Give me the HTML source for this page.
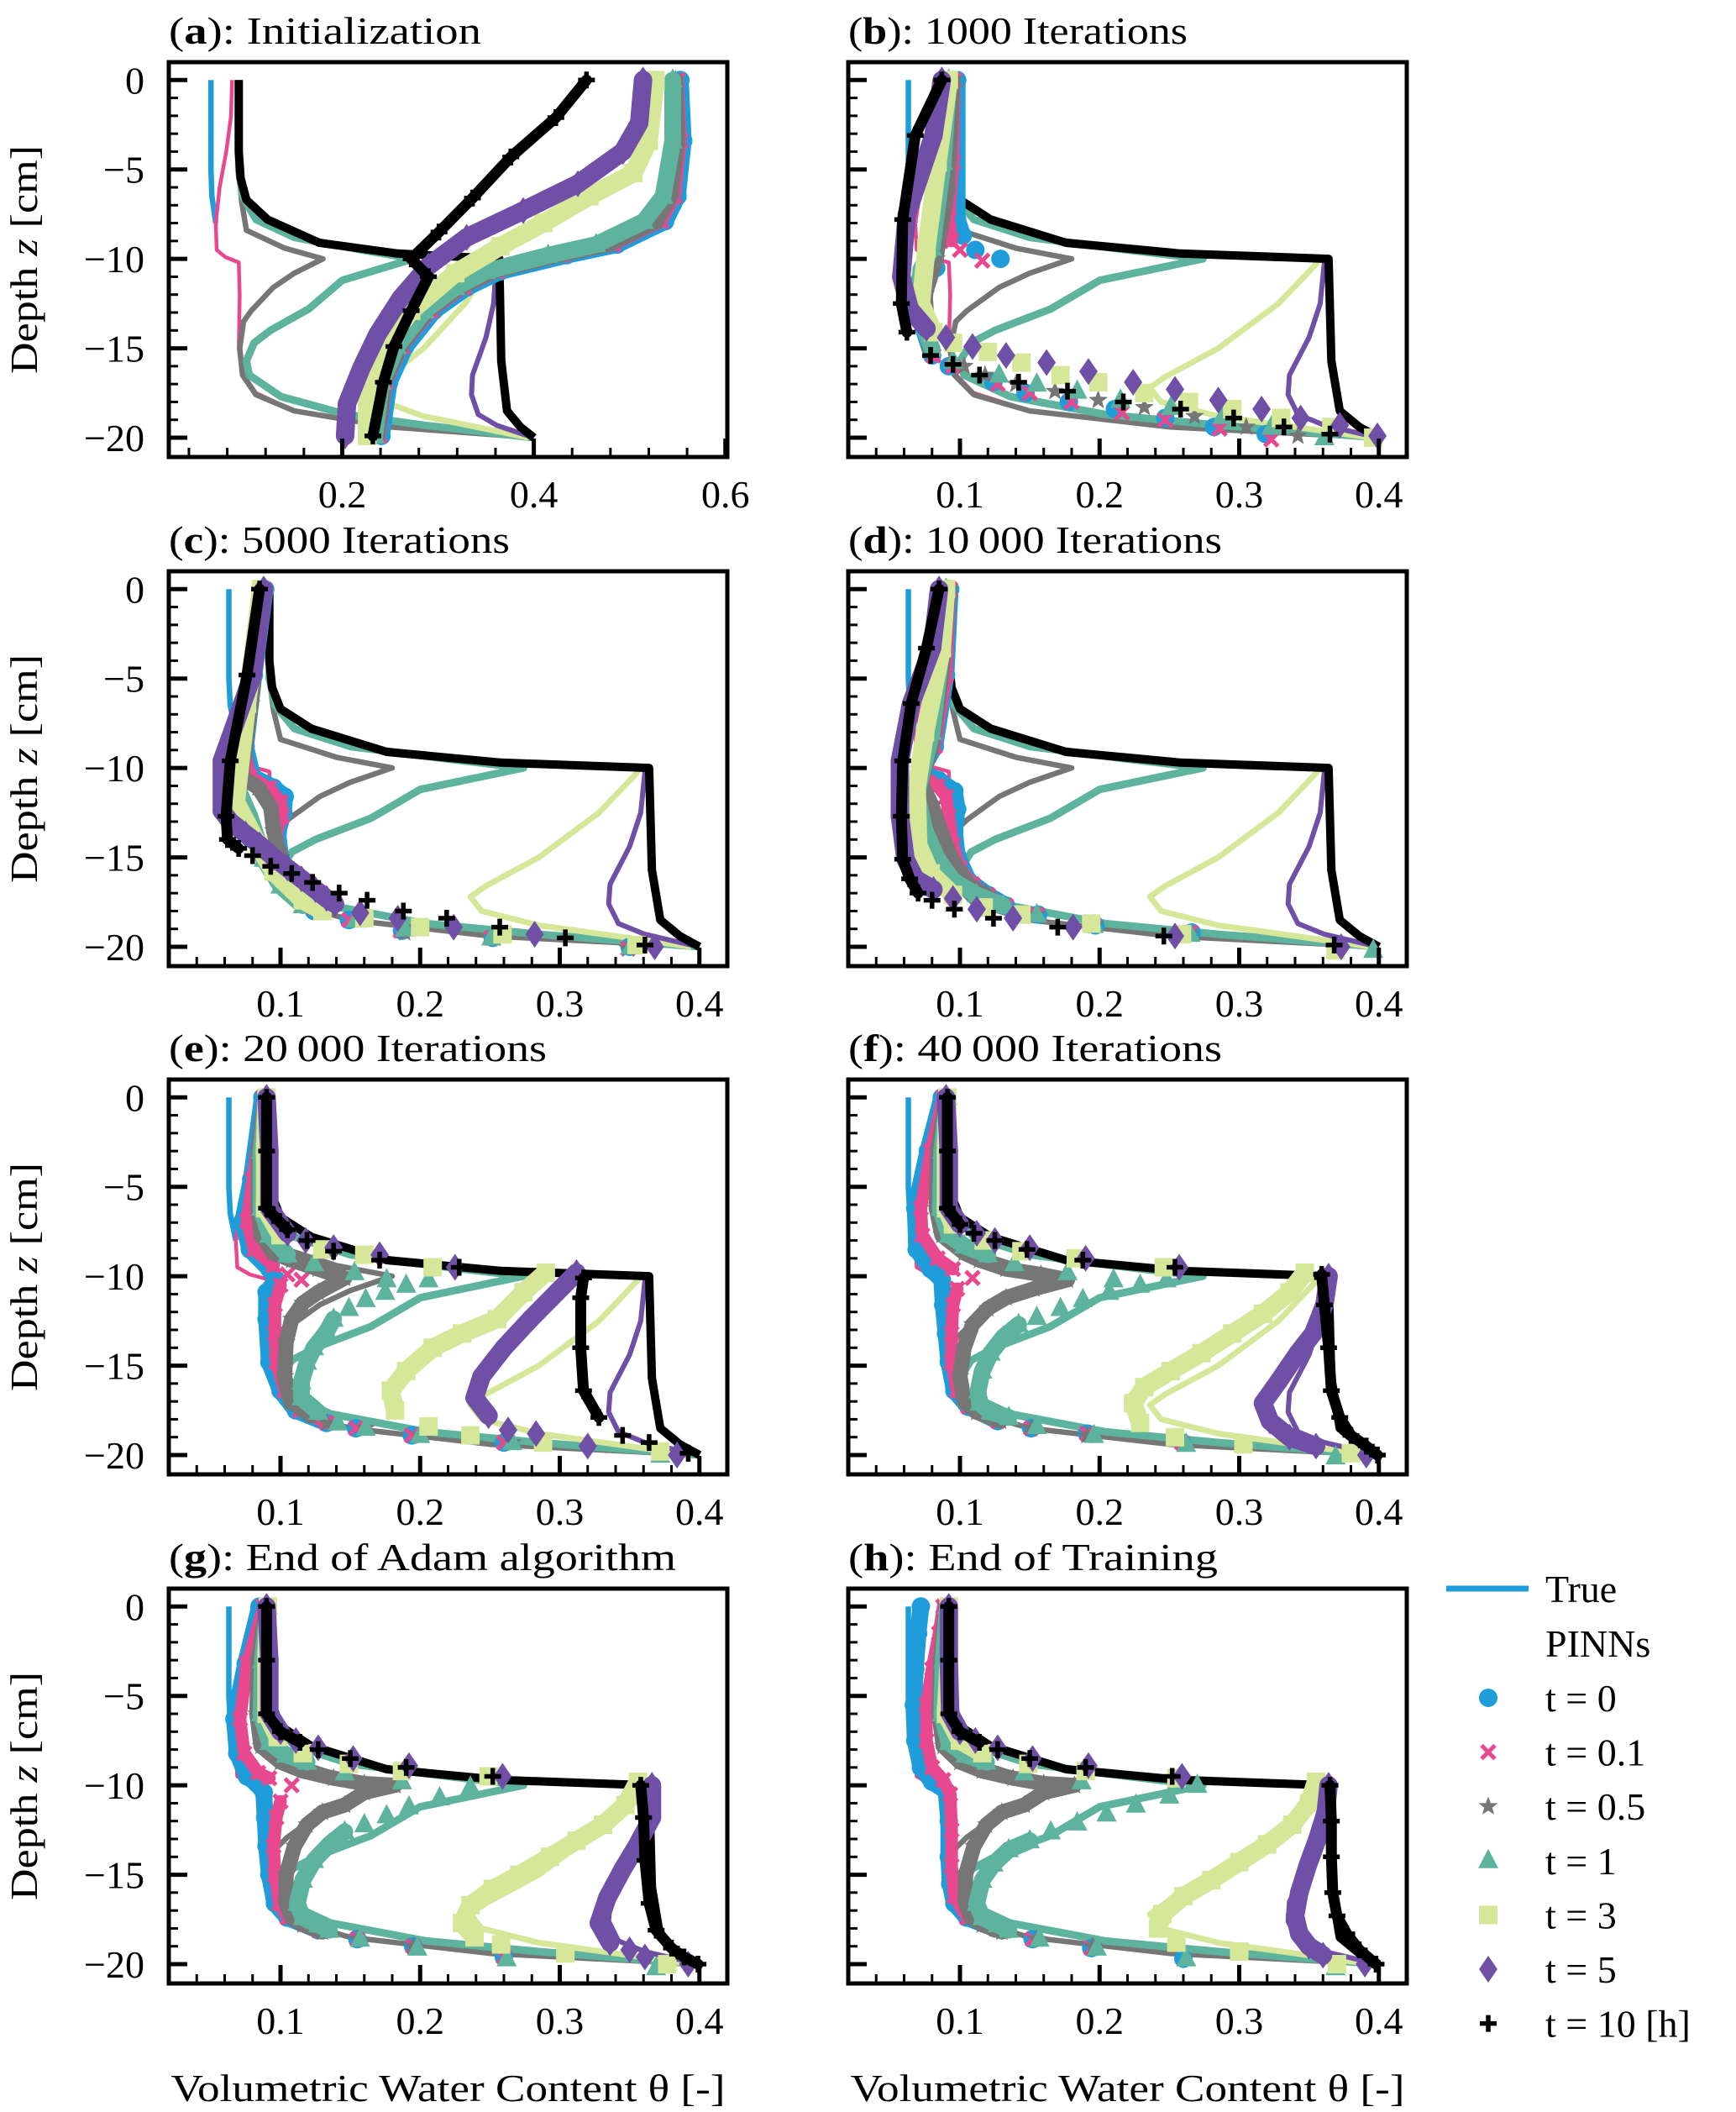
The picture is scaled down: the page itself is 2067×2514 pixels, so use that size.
<!DOCTYPE html>
<html><head><meta charset="utf-8"><title>PINN water content profiles</title>
<style>
html,body{margin:0;padding:0;background:#fff;}
svg{display:block;}
text{font-family:"Liberation Serif","DejaVu Serif",serif;fill:#000;}
</style></head>
<body>
<svg id="fig" xmlns="http://www.w3.org/2000/svg" width="2067" height="2514" viewBox="0 0 2067 2514"></svg>
<script>
// ---- true solution curves [theta, z] ----
const trueT0 = [[0.063,0],[0.063,-5],[0.064,-6.5],[0.068,-8]];
const trueT01 = [[0.085,0],[0.084,-2],[0.079,-4],[0.072,-6],[0.068,-8],[0.069,-9.5],[0.078,-9.9],[0.092,-10.2],[0.093,-12],[0.092,-15],[0.095,-16.3],[0.11,-17.5],[0.15,-18.5],[0.25,-19.4],[0.4,-20]];
const trueT05 = [[0.092,0],[0.092,-5],[0.095,-6.8],[0.1,-8.4],[0.14,-9.4],[0.18,-10],[0.15,-10.8],[0.128,-11.6],[0.105,-12.9],[0.097,-13.5],[0.093,-15],[0.096,-16.5],[0.11,-17.6],[0.15,-18.5],[0.25,-19.4],[0.4,-20]];
const trueT1 = [[0.092,0],[0.092,-5],[0.096,-6.5],[0.11,-7.8],[0.15,-8.8],[0.22,-9.5],[0.274,-10],[0.2,-11.2],[0.165,-12.8],[0.125,-14],[0.108,-14.7],[0.1,-15.7],[0.103,-16.5],[0.136,-17.7],[0.204,-18.7],[0.285,-19.3],[0.4,-20]];
const trueT3 = [[0.358,-10],[0.355,-10.3],[0.328,-12.5],[0.285,-15],[0.247,-16.6],[0.236,-17.2],[0.244,-18],[0.285,-18.8],[0.34,-19.4],[0.394,-20]];
const trueT5 = [[0.364,-10],[0.361,-10.2],[0.358,-12.5],[0.35,-14.4],[0.336,-16.5],[0.335,-17.6],[0.342,-18.7],[0.361,-19.3],[0.394,-19.9],[0.4,-20]];
const trueT10 = [[0.092,0],[0.092,-4],[0.094,-5.5],[0.1,-6.7],[0.122,-7.8],[0.176,-9.1],[0.258,-9.7],[0.364,-10],[0.366,-15.7],[0.372,-18.5],[0.386,-19.4],[0.4,-20]];

// ---- PINN predictions per panel [theta, z, (0 = separate marker)] ----
const a_t0 = [[0.553,0],[0.556,-3.4],[0.55,-6.5],[0.537,-7.9],[0.487,-9.2],[0.434,-9.8],[0.365,-10.7],[0.33,-11.6],[0.296,-12.9],[0.266,-14.9],[0.249,-16.9],[0.241,-19.9]];
const a_t01 = [[0.55,0],[0.553,-3.4],[0.547,-6.5],[0.533,-7.9],[0.483,-9.2],[0.43,-9.8],[0.362,-10.7],[0.327,-11.6],[0.293,-12.9],[0.263,-14.9],[0.246,-16.9],[0.239,-19.9]];
const a_t05 = [[0.548,0],[0.55,-3.4],[0.543,-6.5],[0.528,-7.9],[0.478,-9.2],[0.425,-9.8],[0.358,-10.7],[0.323,-11.6],[0.29,-12.9],[0.261,-14.9],[0.244,-16.9],[0.237,-19.9]];
const a_t1 = [[0.545,0],[0.545,-3.4],[0.535,-6.5],[0.515,-7.9],[0.465,-9.2],[0.415,-9.8],[0.35,-10.7],[0.318,-11.6],[0.286,-12.9],[0.257,-14.9],[0.241,-16.9],[0.234,-19.9]];
const a_t3 = [[0.527,0],[0.52,-3.4],[0.504,-5.2],[0.458,-6.5],[0.41,-8],[0.365,-9.3],[0.318,-10.8],[0.272,-12.9],[0.243,-14.9],[0.226,-16.9],[0.226,-19.9]];
const a_t5 = [[0.514,0],[0.51,-2.4],[0.493,-4],[0.446,-5.8],[0.389,-7.3],[0.33,-8.8],[0.29,-10.4],[0.261,-12.2],[0.237,-14.2],[0.22,-16.1],[0.205,-18.1],[0.203,-19.9]];
const a_t10 = [[0.455,0],[0.423,-2.1],[0.376,-4.3],[0.336,-6.6],[0.301,-8.5],[0.272,-10],[0.29,-11],[0.272,-12.9],[0.254,-14.9],[0.243,-16.9],[0.232,-19.9]];

const b_t0 = [[0.098,0],[0.098,-7.8],[0.102,-8.7],[0.111,-9.5,0],[0.129,-10,0],[0.083,-10.5,0],[0.07,-11.4],[0.072,-13.5],[0.08,-15.4],[0.092,-16,0],[0.124,-16.9,0],[0.147,-17.5,0],[0.178,-18,0],[0.211,-18.4,0],[0.247,-18.9,0],[0.282,-19.4,0],[0.319,-19.8,0]];
const b_t01 = [[0.096,0],[0.095,-4.6],[0.092,-7.8],[0.094,-9],[0.1,-9.5,0],[0.116,-10.1,0],[0.078,-10.8,0],[0.075,-13],[0.081,-15.4],[0.095,-16,0],[0.127,-17,0],[0.15,-17.5,0],[0.18,-18,0],[0.216,-18.6,0],[0.247,-19,0],[0.286,-19.5,0],[0.323,-20.1,0]];
const b_t05 = [[0.095,0],[0.091,-6.2],[0.084,-9.4],[0.083,-10],[0.075,-12],[0.078,-15],[0.103,-16,0],[0.118,-16.5,0],[0.14,-17,0],[0.168,-17.4,0],[0.199,-17.9,0],[0.232,-18.3,0],[0.268,-18.8,0],[0.305,-19.4,0],[0.342,-19.9,0]];
const b_t1 = [[0.092,0],[0.088,-4.6],[0.08,-9.4],[0.072,-10.6],[0.07,-13],[0.08,-15],[0.095,-15.7,0],[0.128,-16.5,0],[0.155,-17,0],[0.184,-17.4,0],[0.215,-17.9,0],[0.251,-18.3,0],[0.288,-18.8,0],[0.323,-19.4,0],[0.361,-20,0]];
const b_t3 = [[0.092,0],[0.084,-4.6],[0.076,-9.4],[0.072,-12.5],[0.081,-14.1],[0.095,-14.7,0],[0.12,-15.2,0],[0.144,-15.8,0],[0.172,-16.5,0],[0.199,-16.9,0],[0.232,-17.5,0],[0.264,-18,0],[0.295,-18.4,0],[0.33,-18.9,0],[0.366,-19.4,0],[0.396,-20,0]];
const b_t5 = [[0.087,0],[0.081,-3.1],[0.062,-7.5],[0.058,-11],[0.064,-12.8],[0.076,-13.9],[0.09,-14.4,0],[0.109,-14.9,0],[0.133,-15.4,0],[0.162,-15.8,0],[0.192,-16.3,0],[0.224,-16.9,0],[0.254,-17.3,0],[0.285,-17.9,0],[0.316,-18.4,0],[0.344,-18.9,0],[0.372,-19.3,0],[0.399,-19.9,0]];
const b_t10 = [[0.087,0],[0.068,-3.1],[0.059,-7.8],[0.058,-12.5],[0.062,-14.1],[0.079,-15.4,0],[0.095,-15.9,0],[0.114,-16.5,0],[0.142,-16.9,0],[0.177,-17.4,0],[0.217,-18,0],[0.258,-18.4,0],[0.296,-18.9,0],[0.332,-19.4,0],[0.365,-19.8,0]];

const c_t0 = [[0.089,0],[0.081,-4.8],[0.075,-8.8],[0.08,-10.5],[0.095,-11.1],[0.103,-11.6],[0.102,-12.5],[0.098,-13.6],[0.1,-15],[0.11,-16.6],[0.124,-18],[0.149,-18.5,0],[0.187,-19.1,0],[0.252,-19.5,0],[0.35,-20,0]];
const c_t01 = [[0.088,0],[0.08,-4.8],[0.074,-8.8],[0.078,-10.5],[0.092,-11.1],[0.1,-11.9],[0.101,-12.7],[0.097,-13.6],[0.1,-15],[0.11,-16.6],[0.124,-17.8],[0.149,-18.5,0],[0.186,-19.1,0],[0.251,-19.5,0],[0.349,-20.1,0]];
const c_t05 = [[0.088,0],[0.079,-6.4],[0.072,-10.5],[0.084,-11.1],[0.093,-12.2],[0.095,-13.5],[0.1,-15],[0.11,-16.6],[0.127,-18],[0.189,-19.2,0],[0.253,-19.5,0],[0.349,-20.1,0]];
const c_t1 = [[0.087,0],[0.076,-6.4],[0.069,-11.1],[0.078,-12.7],[0.088,-15.1],[0.1,-16.6],[0.116,-17.7],[0.154,-18.5,0],[0.189,-19,0],[0.251,-19.5,0],[0.351,-20,0]];
const c_t3 = [[0.086,0],[0.076,-6.4],[0.068,-11.9],[0.084,-14.3],[0.095,-15.8],[0.116,-17.4],[0.13,-18],[0.16,-18.4,0],[0.2,-18.9,0],[0.259,-19.3,0],[0.355,-19.9,0]];
const c_t5 = [[0.088,0],[0.08,-4.8],[0.058,-9.6],[0.058,-12.4],[0.064,-13],[0.075,-13.7],[0.085,-14.3],[0.095,-15],[0.105,-15.6],[0.115,-16.2],[0.125,-16.8],[0.133,-17.3],[0.139,-17.6],[0.157,-18.1,0],[0.184,-18.4,0],[0.224,-18.9,0],[0.282,-19.3,0],[0.368,-20,0]];
const c_t10 = [[0.085,0],[0.076,-4.8],[0.064,-9.6],[0.061,-12.7],[0.062,-14],[0.07,-14.5],[0.08,-14.9,0],[0.093,-15.5,0],[0.108,-15.9,0],[0.123,-16.4,0],[0.142,-17,0],[0.162,-17.4,0],[0.188,-18,0],[0.219,-18.4,0],[0.257,-18.9,0],[0.304,-19.5,0],[0.361,-19.9,0]];

const d_t0 = [[0.093,0],[0.09,-4.8],[0.082,-8.8],[0.072,-10.2],[0.085,-10.7],[0.096,-11.3],[0.098,-12.3],[0.096,-13.5],[0.098,-14.9],[0.106,-16.3],[0.12,-17.1],[0.133,-17.7],[0.156,-18.2,0],[0.197,-18.8,0],[0.266,-19.2,0]];
const d_t01 = [[0.093,0],[0.09,-4.8],[0.082,-8.8],[0.07,-10.2],[0.084,-11],[0.09,-11.6],[0.092,-12.7],[0.095,-14.3],[0.1,-15.6],[0.109,-16.5],[0.12,-17.1],[0.133,-17.7],[0.155,-18.2,0],[0.196,-18.8,0],[0.265,-19.2,0]];
const d_t05 = [[0.092,0],[0.087,-4.8],[0.08,-8.8],[0.072,-10.8],[0.08,-12.1],[0.087,-13.7],[0.095,-15.2],[0.106,-16.5],[0.122,-17.3],[0.155,-18.2,0],[0.196,-18.8,0],[0.265,-19.3,0]];
const d_t1 = [[0.09,0],[0.087,-3.3],[0.08,-8],[0.069,-11.5],[0.075,-13.5],[0.084,-15.1],[0.095,-16.3],[0.112,-17.1],[0.131,-17.7],[0.155,-18.2,0],[0.196,-18.8,0],[0.265,-19.3,0],[0.396,-20.2,0]];
const d_t3 = [[0.09,0],[0.087,-3.3],[0.075,-8],[0.069,-11.1],[0.07,-14.3],[0.079,-15.9],[0.095,-17.1],[0.117,-17.8,0],[0.144,-18.2,0],[0.194,-18.7,0],[0.259,-19.3,0],[0.369,-20.2,0]];
const d_t5 = [[0.085,0],[0.08,-3.3],[0.065,-6.4],[0.057,-9.6],[0.057,-12.7],[0.061,-15.1],[0.068,-16.2],[0.081,-16.8],[0.095,-17.3,0],[0.112,-17.9,0],[0.138,-18.4,0],[0.181,-18.9,0],[0.254,-19.4,0],[0.373,-20,0]];
const d_t10 = [[0.085,0],[0.076,-3.3],[0.065,-6.4],[0.059,-9.6],[0.058,-12.7],[0.059,-15.1],[0.064,-16.2],[0.07,-17],[0.08,-17.4,0],[0.096,-17.9,0],[0.124,-18.4,0],[0.17,-18.9,0],[0.246,-19.4,0],[0.368,-19.9,0]];

const e_t0 = [[0.087,0],[0.079,-4.6],[0.073,-6.9],[0.078,-8.5],[0.092,-9.6],[0.097,-10.2],[0.09,-10.9],[0.09,-12.4],[0.092,-14.8],[0.1,-16.4],[0.111,-17.5],[0.133,-18.2],[0.154,-18.5,0],[0.194,-18.9,0],[0.26,-19.3,0]];
const e_t01 = [[0.088,0],[0.08,-4.6],[0.076,-6.9],[0.081,-8.5],[0.095,-9.4],[0.105,-9.9,0],[0.115,-10.2,0],[0.1,-10.5,0],[0.096,-11.6],[0.096,-13.2],[0.097,-14.8],[0.103,-16.4],[0.114,-17.5],[0.133,-18.2],[0.154,-18.5,0],[0.194,-18.9,0],[0.26,-19.3,0]];
const e_t05 = [[0.089,0],[0.084,-3],[0.084,-6.2],[0.086,-7.7],[0.095,-8.7],[0.108,-9.1],[0.127,-9.6],[0.146,-10.1],[0.127,-10.9],[0.116,-11.5],[0.108,-12.4],[0.104,-13.7],[0.103,-15.6],[0.107,-17],[0.122,-17.8],[0.133,-18.2,0],[0.161,-18.5,0],[0.2,-18.9,0],[0.266,-19.3,0]];
const e_t1 = [[0.09,0],[0.086,-3],[0.086,-6.2],[0.092,-7.7],[0.105,-8.8],[0.124,-9.3,0],[0.153,-9.8,0],[0.176,-10.2,0],[0.206,-10.2,0],[0.19,-10.5,0],[0.175,-10.9,0],[0.161,-11.3,0],[0.149,-11.8,0],[0.138,-12.4,0],[0.133,-13.1],[0.124,-14],[0.119,-14.8],[0.115,-15.9],[0.115,-16.8],[0.127,-17.6],[0.141,-18.2,0],[0.161,-18.5,0],[0.2,-18.9,0],[0.266,-19.3,0],[0.372,-20,0]];
const e_t3 = [[0.09,0],[0.089,-3],[0.089,-6.2],[0.1,-7.7],[0.13,-8.5,0],[0.16,-8.8,0],[0.209,-9.5,0],[0.29,-9.8,0],[0.274,-10.9],[0.255,-12.4],[0.23,-13.2],[0.209,-14],[0.19,-15.3],[0.179,-16.4],[0.182,-17.5],[0.206,-18.4,0],[0.236,-18.9,0],[0.288,-19.3,0],[0.372,-19.8,0]];
const e_t5 = [[0.09,0],[0.092,-3],[0.092,-6.2],[0.105,-7.6],[0.118,-8,0],[0.138,-8.4,0],[0.171,-8.8,0],[0.225,-9.5,0],[0.312,-9.8,0],[0.298,-10.9],[0.279,-12.4],[0.26,-14],[0.244,-15.6],[0.239,-16.8],[0.249,-17.8],[0.263,-18.6,0],[0.283,-18.8,0],[0.32,-19.5,0],[0.384,-20,0]];
const e_t10 = [[0.09,0],[0.09,-3],[0.09,-6.2],[0.095,-6.6],[0.105,-7.4],[0.119,-8,0],[0.138,-8.6,0],[0.171,-9.1,0],[0.228,-9.5,0],[0.317,-10.1,0],[0.315,-11.2],[0.315,-14],[0.317,-16.4],[0.328,-17.9],[0.345,-18.9,0],[0.364,-19.3,0],[0.392,-19.9,0]];

const f_t0 = [[0.087,0],[0.077,-3],[0.068,-6.2],[0.069,-8.5],[0.079,-9.6],[0.087,-10.2],[0.088,-11.6],[0.09,-13.2],[0.092,-14.8],[0.096,-16.4],[0.106,-17.3],[0.127,-18.1],[0.151,-18.5,0],[0.191,-18.8,0],[0.259,-19.3,0]];
const f_t01 = [[0.088,0],[0.079,-3],[0.072,-6.2],[0.073,-7.7],[0.084,-9],[0.095,-9.6],[0.109,-10.1,0],[0.098,-10.7,0],[0.095,-11.6],[0.094,-13.2],[0.094,-14.8],[0.098,-16.4],[0.106,-17.3],[0.127,-18.1],[0.151,-18.5,0],[0.191,-18.8,0],[0.259,-19.3,0]];
const f_t05 = [[0.09,0],[0.084,-3],[0.083,-6.2],[0.087,-7.7],[0.103,-8.7],[0.114,-9.1],[0.133,-9.6],[0.158,-9.9],[0.177,-10.2],[0.153,-10.7],[0.133,-11.2],[0.12,-11.8],[0.109,-12.7],[0.103,-14],[0.1,-15.6],[0.103,-17],[0.112,-17.6],[0.129,-18.1],[0.151,-18.5,0],[0.191,-18.9,0]];
const f_t1 = [[0.091,0],[0.087,-3],[0.086,-6.2],[0.092,-7.7],[0.103,-8.3],[0.12,-8.8],[0.139,-9.3,0],[0.177,-9.8,0],[0.21,-10.2,0],[0.248,-10.2,0],[0.229,-10.5,0],[0.207,-10.9,0],[0.188,-11.3,0],[0.172,-11.8,0],[0.155,-12.3,0],[0.142,-12.7,0],[0.131,-13.4],[0.122,-14.3],[0.116,-15.3],[0.113,-16.4],[0.114,-17.1],[0.122,-17.6],[0.135,-17.9],[0.155,-18.4,0],[0.196,-18.9,0],[0.262,-19.4,0],[0.369,-20.1,0]];
const f_t3 = [[0.091,0],[0.09,-3],[0.09,-6.2],[0.095,-7.1],[0.117,-8,0],[0.144,-8.6,0],[0.183,-9,0],[0.246,-9.5,0],[0.347,-9.8,0],[0.336,-10.9],[0.317,-12.1],[0.295,-13.2],[0.273,-14.3],[0.251,-15.3],[0.232,-16.2],[0.224,-17.1],[0.229,-18.2],[0.254,-19,0],[0.303,-19.4,0],[0.38,-19.9,0]];
const f_t5 = [[0.09,0],[0.092,-3],[0.092,-6.2],[0.1,-7.1],[0.112,-7.6,0],[0.125,-8,0],[0.15,-8.4,0],[0.19,-9,0],[0.257,-9.5,0],[0.364,-10,0],[0.361,-11.6],[0.353,-13.2],[0.342,-14.3],[0.328,-15.9],[0.317,-17.1],[0.322,-18.1],[0.336,-19],[0.355,-19.5],[0.391,-20,0]];
const f_t10 = [[0.091,0],[0.091,-3],[0.091,-6.2],[0.1,-7.1],[0.11,-7.6,0],[0.125,-8,0],[0.148,-8.5,0],[0.188,-9.1,0],[0.254,-9.5,0],[0.359,-9.9,0],[0.361,-11.6],[0.364,-14],[0.366,-16.4],[0.372,-17.9],[0.38,-18.9],[0.391,-19.5],[0.399,-20]];

const g_t0 = [[0.085,0],[0.075,-3.2],[0.067,-6.3],[0.069,-8.2],[0.076,-9.5],[0.083,-9.9],[0.088,-10.4],[0.089,-11.8],[0.09,-13.4],[0.092,-15],[0.096,-16.6],[0.105,-17.4],[0.127,-18.1],[0.155,-18.6,0],[0.195,-19,0],[0.26,-19.6,0]];
const g_t01 = [[0.088,0],[0.076,-3.2],[0.071,-6.3],[0.074,-8.2],[0.084,-9.3],[0.092,-9.6],[0.108,-10,0],[0.1,-10.9,0],[0.097,-11.8],[0.095,-13.4],[0.096,-15],[0.099,-16.6],[0.105,-17.4],[0.127,-18.1],[0.155,-18.6,0],[0.195,-19,0],[0.26,-19.6,0]];
const g_t05 = [[0.09,0],[0.084,-3],[0.083,-6],[0.086,-7.8],[0.1,-8.7],[0.116,-9.2],[0.138,-9.6],[0.16,-9.9],[0.182,-10],[0.16,-10.4],[0.146,-11.1],[0.13,-11.5],[0.119,-12.2],[0.11,-13.4],[0.104,-15],[0.104,-16.6],[0.108,-17.4],[0.116,-17.8],[0.13,-18.2],[0.155,-18.6,0],[0.195,-19,0]];
const g_t1 = [[0.091,0],[0.087,-3],[0.086,-6],[0.092,-7.6],[0.104,-8.3],[0.119,-8.7],[0.146,-9.3,0],[0.187,-9.8,0],[0.236,-10.1,0],[0.214,-10.7,0],[0.192,-11.2,0],[0.176,-11.7,0],[0.16,-12.2,0],[0.146,-12.6,0],[0.135,-13.3],[0.124,-14.2],[0.116,-15.3],[0.112,-16.6],[0.116,-17.4],[0.127,-17.8],[0.135,-18.1],[0.157,-18.6,0],[0.198,-19.1,0],[0.262,-19.7,0],[0.369,-20.2,0]];
const g_t3 = [[0.091,0],[0.09,-3],[0.09,-6],[0.098,-7.3],[0.116,-8.2,0],[0.149,-8.8,0],[0.187,-9.2,0],[0.249,-9.5,0],[0.356,-9.8,0],[0.347,-11.1],[0.331,-12.2],[0.312,-13.1],[0.293,-14],[0.271,-15],[0.252,-15.8],[0.236,-16.7],[0.23,-17.7],[0.239,-18.5],[0.258,-18.9,0],[0.304,-19.4,0],[0.377,-20,0]];
const g_t5 = [[0.09,0],[0.092,-3],[0.092,-6],[0.1,-7],[0.111,-7.5,0],[0.127,-7.9,0],[0.152,-8.5,0],[0.192,-8.9,0],[0.259,-9.5,0],[0.366,-10,0],[0.366,-11.8],[0.355,-13.4],[0.345,-14.7],[0.334,-16.3],[0.328,-17.7],[0.336,-18.8],[0.35,-19.2,0],[0.361,-19.6,0],[0.392,-20,0]];
const g_t10 = [[0.09,0],[0.09,-3],[0.09,-6],[0.1,-7],[0.114,-7.6],[0.127,-8,0],[0.15,-8.5,0],[0.19,-9,0],[0.252,-9.5,0],[0.358,-10,0],[0.36,-11.8],[0.361,-14.2],[0.364,-16.6],[0.369,-18.1],[0.38,-19.1],[0.389,-19.6],[0.399,-20]];

const h_t0 = [[0.072,0],[0.07,-1.5],[0.068,-3.5],[0.067,-5.5],[0.068,-7.5],[0.072,-9],[0.08,-9.8],[0.09,-10.3],[0.092,-12],[0.092,-14],[0.093,-15.5],[0.096,-16.6],[0.105,-17.4],[0.125,-18],[0.152,-18.6,0],[0.194,-19.1,0],[0.26,-19.7,0]];
const h_t01 = [[0.088,0],[0.085,-1.5],[0.08,-3.5],[0.076,-5.5],[0.076,-7.5],[0.08,-9],[0.088,-9.7],[0.093,-10.5],[0.094,-12.5],[0.094,-14.5],[0.096,-16.2],[0.105,-17.4],[0.125,-18],[0.152,-18.6,0],[0.194,-19.1,0]];
const h_t05 = [[0.09,0],[0.086,-3],[0.085,-6],[0.088,-7.8],[0.1,-8.7],[0.116,-9.2],[0.138,-9.6],[0.16,-9.9],[0.182,-10],[0.16,-10.4],[0.146,-11.1],[0.13,-11.5],[0.119,-12.2],[0.11,-13.4],[0.104,-15],[0.104,-16.6],[0.108,-17.4],[0.116,-17.8],[0.13,-18.2],[0.155,-18.6,0],[0.195,-19,0]];
const h_t1 = [[0.091,0],[0.088,-3],[0.087,-6],[0.092,-7.6],[0.104,-8.3],[0.119,-8.7],[0.146,-9.3,0],[0.187,-9.8,0],[0.27,-10,0],[0.25,-10.6,0],[0.226,-11.1,0],[0.205,-11.6,0],[0.184,-12.1,0],[0.165,-12.6,0],[0.15,-13.1,0],[0.135,-13.6],[0.124,-14.4],[0.116,-15.3],[0.112,-16.6],[0.116,-17.4],[0.127,-17.8],[0.135,-18.1],[0.157,-18.6,0],[0.198,-19.1,0],[0.262,-19.7,0],[0.369,-20.2,0]];
const h_t3 = [[0.092,0],[0.092,-3],[0.09,-6],[0.1,-7.5],[0.116,-8.2],[0.149,-8.8,0],[0.19,-9.2,0],[0.255,-9.6,0],[0.355,-9.8,0],[0.35,-11],[0.338,-12.2],[0.32,-13.3],[0.3,-14.3],[0.28,-15.3],[0.26,-16.2],[0.245,-17.2],[0.242,-18],[0.255,-18.8,0],[0.3,-19.3,0],[0.37,-20,0]];
const h_t5 = [[0.092,0],[0.092,-3],[0.093,-6],[0.1,-7],[0.111,-7.5,0],[0.127,-7.9,0],[0.152,-8.5,0],[0.192,-8.9,0],[0.259,-9.5,0],[0.364,-10,0],[0.362,-11.5],[0.356,-13],[0.349,-14.5],[0.343,-16],[0.34,-17.3],[0.343,-18.3],[0.35,-19],[0.36,-19.5],[0.39,-20,0]];
const h_t10 = [[0.092,0],[0.092,-3],[0.092,-6],[0.1,-7],[0.114,-7.6],[0.127,-8,0],[0.15,-8.5,0],[0.19,-9,0],[0.252,-9.5,0],[0.365,-10,0],[0.366,-12],[0.366,-14],[0.367,-16],[0.37,-17.3],[0.377,-18.3],[0.386,-19.2],[0.398,-20]];

// ---- tick labels ----
const yTicks = [0,-5,-10,-15,-20];
const yTickLabels = ["0","\u22125","\u221210","\u221215","\u221220"];
const xTicksA = [0.2,0.4,0.6];
const xTickLabelsA = ["0.2","0.4","0.6"];
const xTicksB = [0.1,0.2,0.3,0.4];
const xTickLabelsB = ["0.1","0.2","0.3","0.4"];
const titles = ["a|: Initialization","b|: 1000 Iterations","c|: 5000 Iterations","d|: 10\u2009000 Iterations","e|: 20\u2009000 Iterations","f|: 40\u2009000 Iterations","g|: End of Adam algorithm","h|: End of Training"];
const titleWidths = [372, 404, 406, 445, 450, 445, 604, 440];
const legendLabels = ["t = 0","t = 0.1","t = 0.5","t = 1","t = 3","t = 5","t = 10 [h]"];

const NS = "http://www.w3.org/2000/svg";
const svg = document.getElementById('fig');
function el(tag, attrs, parent){
  const e = document.createElementNS(NS, tag);
  for (const k in attrs) e.setAttribute(k, attrs[k]);
  (parent||svg).appendChild(e);
  return e;
}
const colors = {t0:"#1f9ddb", t01:"#e8488e", t05:"#767676", t1:"#5db39c", t3:"#d6e79a", t5:"#7050a6", t10:"#000000"};
const keys = ["t0","t01","t05","t1","t3","t5","t10"];
const marker = {t0:"circle", t01:"x", t05:"star", t1:"tri", t3:"square", t5:"diamond", t10:"plus"};
const bandW = {t0:20, t01:15, t05:18, t1:20, t3:22, t5:22, t10:13};
const trueW = {t0:6.5, t01:4.5, t05:6.5, t1:9, t3:7, t5:6, t10:10};
const trueData = {t0:trueT0, t01:trueT01, t05:trueT05, t1:trueT1, t3:trueT3, t5:trueT5, t10:trueT10};

const panels = [
 {id:'a', s:[a_t0,a_t01,a_t05,a_t1,a_t3,a_t5,a_t10]},
 {id:'b', s:[b_t0,b_t01,b_t05,b_t1,b_t3,b_t5,b_t10]},
 {id:'c', s:[c_t0,c_t01,c_t05,c_t1,c_t3,c_t5,c_t10]},
 {id:'d', s:[d_t0,d_t01,d_t05,d_t1,d_t3,d_t5,d_t10]},
 {id:'e', s:[e_t0,e_t01,e_t05,e_t1,e_t3,e_t5,e_t10]},
 {id:'f', s:[f_t0,f_t01,f_t05,f_t1,f_t3,f_t5,f_t10]},
 {id:'g', s:[g_t0,g_t01,g_t05,g_t1,g_t3,g_t5,g_t10]},
 {id:'h', s:[h_t0,h_t01,h_t05,h_t1,h_t3,h_t5,h_t10]}
];
const colLeft = [201, 1010], W = 665, rowTop = [74, 680, 1285, 1891], H = 470;
const Y0 = 1.0, Y1 = -21.08;

function drawMarker(g, type, x, y, c){
  let m;
  if (type === "circle") m = el('circle', {cx:x, cy:y, r:11, fill:c}, g);
  else if (type === "square") m = el('rect', {x:x-11, y:y-11, width:22, height:22, fill:c}, g);
  else if (type === "tri") m = el('polygon', {points:`${x},${y-14} ${x-12},${y+9} ${x+12},${y+9}`, fill:c}, g);
  else if (type === "diamond") m = el('polygon', {points:`${x},${y-16} ${x+11},${y} ${x},${y+16} ${x-11},${y}`, fill:c}, g);
  else if (type === "star") {
    let p = [];
    for (let i=0;i<10;i++){ const r = i%2?5:12; const a = -Math.PI/2 + i*Math.PI/5; p.push((x+r*Math.cos(a)).toFixed(1)+','+(y+r*Math.sin(a)).toFixed(1)); }
    m = el('polygon', {points:p.join(' '), fill:c}, g);
  } else if (type === "x") {
    m = el('path', {d:`M${x-8},${y-8}L${x+8},${y+8}M${x-8},${y+8}L${x+8},${y-8}`, stroke:c, 'stroke-width':5, fill:'none'}, g);
  } else {
    m = el('path', {d:`M${x-10},${y}L${x+10},${y}M${x},${y-10}L${x},${y+10}`, stroke:c, 'stroke-width':5.5, fill:'none'}, g);
  }
  return m;
}

panels.forEach((p, idx) => {
  const col = idx % 2, row = Math.floor(idx/2);
  const L = colLeft[col], T = rowTop[row];
  const xmin = idx===0 ? 0.019 : 0.02, xmax = idx===0 ? 0.602 : 0.42;
  const sx = v => L + (v - xmin)/(xmax - xmin)*W;
  const sy = z => T + (Y0 - z)/(Y0 - Y1)*H;
  const g = el('g', {});
  
  
  const cp = el('clipPath', {id:'clip'+p.id}, g);
  el('rect', {x:L, y:T, width:W, height:H}, cp);
  // title
  const tparts = titles[idx].split('|');
  const tt = el('text', {x:L, y:T-22, 'font-size':46, textLength:titleWidths[idx], lengthAdjust:'spacingAndGlyphs'}, g);
  
  
  const t1 = el('tspan', {}, tt); t1.textContent = '(';
  const t2 = el('tspan', {'font-weight':'bold'}, tt); t2.textContent = tparts[0];
  const t3 = el('tspan', {}, tt); t3.textContent = ')' + tparts[1];
  const plot = el('g', {'clip-path':`url(#clip${p.id})`}, g);
  
  
  // true curves
  keys.forEach(k => {
    const pts = trueData[k].map(q => sx(q[0]).toFixed(1)+','+sy(q[1]).toFixed(1)).join(' ');
    const ln = el('polyline', {points:pts, fill:'none', stroke:colors[k], 'stroke-width':trueW[k], 'stroke-linejoin':'round', 'stroke-linecap':'butt'}, plot);
    
    
  });
  // PINN markers
  p.s.forEach((series, si) => {
    const k = keys[si];
    const sg = el('g', {}, plot);
    
    
    for (let i=1;i<series.length;i++){
      if (series[i].length > 2 && series[i][2] === 0) continue;
      const b = el('line', {x1:sx(series[i-1][0]), y1:sy(series[i-1][1]), x2:sx(series[i][0]), y2:sy(series[i][1]), stroke:colors[k], 'stroke-width':bandW[k], 'stroke-linecap':'round'}, sg);
      
      
    }
    series.forEach(q => {
      const m = drawMarker(sg, marker[k], sx(q[0]), sy(q[1]), colors[k]);
      
      
    });
  });
  // frame
  const fr = el('rect', {x:L, y:T, width:W, height:H, fill:'none', stroke:'#000', 'stroke-width':5}, g);
  
  
  // y ticks
  for (let z = 0; z >= -20; z--) {
    const major = z % 5 === 0;
    const tk = el('line', {x1:L, x2:L+(major?22:11), y1:sy(z), y2:sy(z), stroke:'#000', 'stroke-width':major?5:3}, g);
    
    
  }
  if (col === 0) {
    yTicks.forEach((v, i) => {
      const t = el('text', {x:L-29, y:sy(v)+16, 'font-size':46, 'text-anchor':'end'}, g);
      
      
      t.textContent = yTickLabels[i];
    });
    const yl = el('text', {x:0, y:0, 'font-size':46, 'text-anchor':'middle', textLength:272, lengthAdjust:'spacingAndGlyphs', transform:`translate(44,${T+H/2}) rotate(-90)`}, g);
    
    
    const y1 = el('tspan', {}, yl); y1.textContent = 'Depth ';
    const y2 = el('tspan', {'font-style':'italic'}, yl); y2.textContent = 'z';
    const y3 = el('tspan', {}, yl); y3.textContent = ' [cm]';
  }
  // x ticks
  const minorStep = idx===0 ? 0.04 : 0.02;
  for (let i = 1; i*minorStep < xmax; i++) {
    const v = i*minorStep;
    if (v <= xmin) continue;
    const major = (i%5===0);
    const tk = el('line', {x1:sx(v), x2:sx(v), y1:T+H, y2:T+H-(major?22:11), stroke:'#000', 'stroke-width':major?5:3}, g);
    
    
  }
  const xt = idx===0 ? xTicksA : xTicksB, xl = idx===0 ? xTickLabelsA : xTickLabelsB;
  xt.forEach((v, i) => {
    const t = el('text', {x:sx(v), y:T+H+60, 'font-size':46, 'text-anchor':'middle'}, g);
    
    
    t.textContent = xl[i];
  });
  if (row === 3) {
    const xa = el('text', {x:L+W/2, y:T+H+140, 'font-size':46, 'text-anchor':'middle', textLength:660, lengthAdjust:'spacingAndGlyphs'}, g);
    
    
    xa.textContent = 'Volumetric Water Content \u03b8 [-]';
  }
});

// legend
const lg = el('g', {});


const tl = el('line', {x1:1722, x2:1820, y1:1891, y2:1891, stroke:colors.t0, 'stroke-width':7}, lg);


const tt = el('text', {x:1840, y:1907, 'font-size':46}, lg);


tt.textContent = 'True';
const pt = el('text', {x:1840, y:1972, 'font-size':46}, lg);


pt.textContent = 'PINNs';
keys.forEach((k, i) => {
  const y = 2021 + i*64.6;
  const m = drawMarker(lg, marker[k], 1772, y, colors[k]);
  
  
  const t = el('text', {x:1840, y:y+16, 'font-size':46}, lg);
  
  
  t.textContent = legendLabels[i];
});
</script>
</body></html>
